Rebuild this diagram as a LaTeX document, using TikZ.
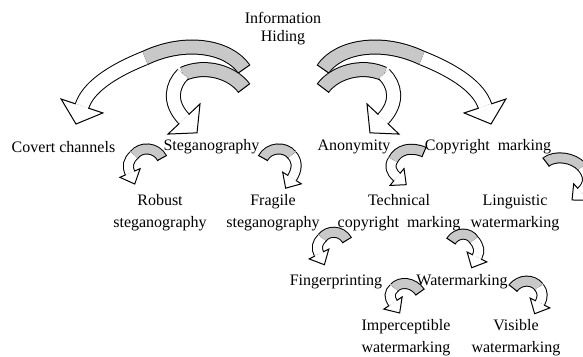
\documentclass[tikz,border=0pt]{standalone}
\usepackage{fontspec}
\setmainfont{Liberation Serif}
\usetikzlibrary{calc}
\definecolor{bandgray}{HTML}{C8C8C8}
\def\lw{1pt}
\newcommand\setarrow[3]{\def\aw{#1}\def\ah{#2}\def\al{#3}}
% #1 tail, #2 #3 controls, #4 turn point, #5 #6 controls, #7 head base
\newcommand\carrow[7]{%
  \draw[line width=\lw, double=bandgray, double distance=\aw] #1 .. controls #2 and #3 .. #4;
  \draw[line width=\lw] ($#1!{\aw/2+\lw}!90:#2$) -- ($#1!{\aw/2+\lw}!-90:#2$);
  \draw[line width=\lw, double=white, double distance=\aw] #4 .. controls #5 and #6 .. #7;
  \filldraw[fill=white, line width=\lw, line join=miter]
    ($#7!{\aw/2}!90:#6$) -- ($#7!{\ah}!90:#6$) -- ($#7!{-\al}!#6$) -- ($#7!{\ah}!-90:#6$) -- ($#7!{\aw/2}!-90:#6$);
}
\begin{document}
\begin{tikzpicture}[x=1pt,y=-1pt,
  lbl/.style={font=\fontsize{16}{22}\selectfont, inner sep=0pt, align=center}]
\useasboundingbox (0,0) rectangle (583,356);
\clip (0,0) rectangle (583,356);
% labels
\node[lbl, font=\fontsize{16}{18}\selectfont] (info) at (283,29) {Information\\Hiding};
\node[lbl] (covert) at (63.5,147) {Covert channels};
\node[lbl] (steg) at (211.5,147) {Steganography};
\node[lbl] (anon) at (354,147) {Anonymity};
\node[lbl] (copy) at (488,147) {Copyright\ \ marking};
\node[lbl] (robust) at (160,213) {Robust\\steganography};
\node[lbl] (fragile) at (273,213) {Fragile\\steganography};
\node[lbl] (tech) at (399,213) {Technical\\copyright\ \ marking};
\node[lbl] (ling) at (515,213) {Linguistic\\watermarking};
\node[lbl] (finger) at (336,282) {Fingerprinting};
\node[lbl] (water) at (462,282) {Watermarking};
\node[lbl] (imperc) at (406,338) {Imperceptible\\watermarking};
\node[lbl] (visible) at (516,338) {Visible\\watermarking};
% big arrows
\setarrow{13pt}{22pt}{19pt}
\carrow{(244,69)}{(228,46)}{(185,39)}{(145,58)}{(110,72)}{(88,88)}{(82,106)}
\carrow{(244,88)}{(232,72)}{(205,64)}{(183,74)}{(172,85)}{(168,102)}{(184,119)}
\begin{scope}[shift={(567,0)}, xscale=-1]
\carrow{(244,69)}{(228,46)}{(185,39)}{(145,58)}{(110,72)}{(88,88)}{(82,106)}
\carrow{(244,88)}{(232,72)}{(205,64)}{(183,74)}{(172,85)}{(168,102)}{(184,119)}
\end{scope}
% small arrows
\setarrow{9pt}{11pt}{12pt}
\carrow{(162,158)}{(156,147)}{(141,146)}{(134,155)}{(128,161)}{(127,166)}{(130,173)}
\carrow{(263,158)}{(269,147)}{(285,146)}{(292,155)}{(298,162)}{(297,170)}{(292,178)}
\carrow{(424,152)}{(410,146)}{(398,150)}{(393,160)}{(389,166)}{(391,172)}{(397,177)}
\carrow{(546,162)}{(555,155)}{(573,157)}{(582,167)}{(589,175)}{(590,184)}{(581,192)}
\carrow{(347,240)}{(341,230)}{(328,230)}{(322,238)}{(317,243)}{(316,248)}{(319,254)}
\carrow{(451,241)}{(457,232)}{(469,232)}{(474,240)}{(479,246)}{(480,251)}{(477,257)}
\carrow{(420,292)}{(413,282)}{(400,281)}{(394,288)}{(389,293)}{(389,297)}{(393,303)}
\carrow{(513,288)}{(520,279)}{(533,279)}{(539,287)}{(543,292)}{(543,297)}{(540,303)}
\end{tikzpicture}
\end{document}
